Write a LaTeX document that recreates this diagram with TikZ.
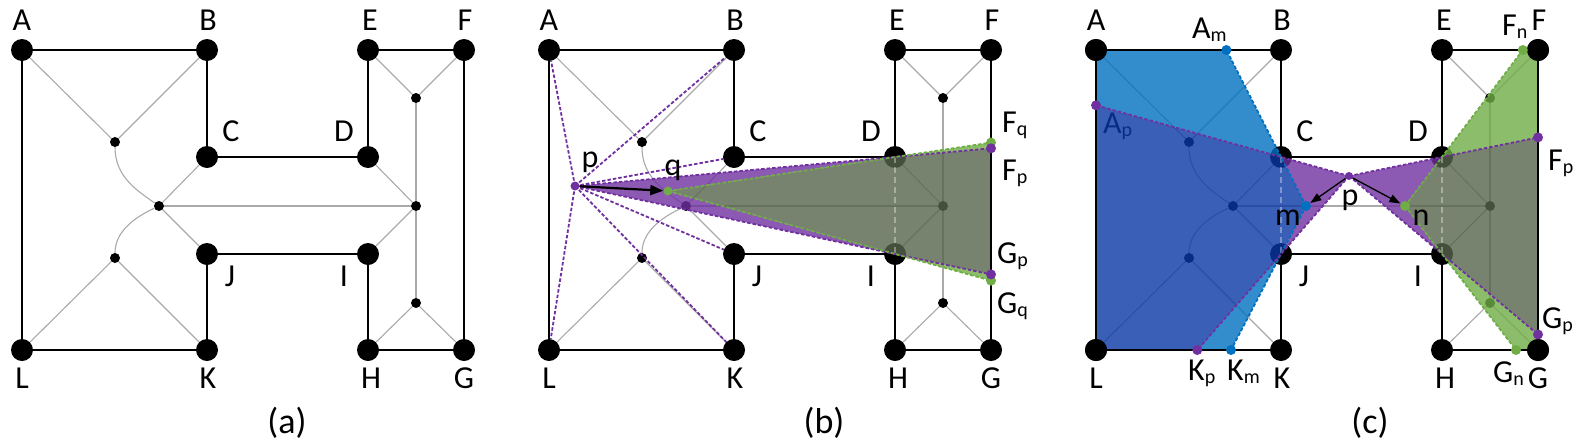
\documentclass[tikz,border=0pt]{standalone}
\usepackage{fontspec}
\setmainfont{Carlito}
\usetikzlibrary{arrows.meta}
\definecolor{vpurple}{HTML}{7030A0}
\definecolor{vblue}{HTML}{0070C0}
\definecolor{vgreen}{HTML}{70AD47}
\definecolor{vdblue}{RGB}{9,56,166}
\definecolor{volive}{RGB}{86,101,76}
\definecolor{edgegray}{RGB}{170,170,170}
\newcommand\sbs[2]{#1\raisebox{-3pt}{\fontsize{20}{20}\selectfont #2}}
\newcommand\basegraph{%
\coordinate (A) at (22,-50);
\coordinate (B) at (207,-50);
\coordinate (C) at (207,-157);
\coordinate (D) at (368,-157);
\coordinate (E) at (368,-50);
\coordinate (F) at (464,-50);
\coordinate (G) at (464,-350);
\coordinate (H) at (368,-350);
\coordinate (I) at (368,-254);
\coordinate (J) at (207,-254);
\coordinate (K) at (207,-350);
\coordinate (L) at (22,-350);
\foreach \v in {A,B,C,D,E,F,G,H,I,J,K,L} {\node[bigdot] (n\v) at (\v) {};}
\node[smalldot] (s1) at (115,-142) {};
\node[smalldot] (s2) at (159,-206) {};
\node[smalldot] (s3) at (115,-258) {};
\node[smalldot] (s4) at (416,-98) {};
\node[smalldot] (s5) at (416,-206) {};
\node[smalldot] (s6) at (416,-303) {};
\draw[gedge] (nA) -- (s1) -- (nB);
\draw[gedge] (s1) to[out=-90,in=145] (s2);
\draw[gedge] (s2) to[out=205,in=90] (s3);
\draw[gedge] (nC) -- (s2) -- (nJ);
\draw[gedge] (nL) -- (s3) -- (nK);
\draw[gedge] (s2) -- (s5);
\draw[gedge] (nD) -- (s5) -- (nI);
\draw[gedge] (s4) -- (s5) -- (s6);
\draw[gedge] (nE) -- (s4) -- (nF);
\draw[gedge] (nH) -- (s6) -- (nG);
\draw[wall] (A) -- (B) -- (C) -- (D) -- (E) -- (F) -- (G) -- (H) -- (I) -- (J) -- (K) -- (L) -- cycle;
\node[lab] (lA) at (22,-30) {A};
\node[lab] (lB) at (208,-30) {B};
\node[lab] (lE) at (370,-30) {E};
\node[lab] (lF) at (465,-30) {F};
\node[lab] (lC) at (231,-141) {C};
\node[lab] (lD) at (344,-141) {D};
\node[lab] (lJ) at (230,-286) {J};
\node[lab] (lI) at (344,-286) {I};
\node[lab] (lL) at (22,-388) {L};
\node[lab] (lK) at (208,-388) {K};
\node[lab] (lH) at (371,-388) {H};
\node[lab] (lG) at (464,-388) {G};
}
\begin{document}
\begin{tikzpicture}[x=1pt,y=1pt,
  bigdot/.style={circle,fill=black,inner sep=0pt,minimum size=22pt},
  smalldot/.style={circle,fill=black,inner sep=0pt,minimum size=10pt},
  cdot/.style={circle,inner sep=0pt,minimum size=10pt},
  gedge/.style={draw=edgegray,line width=1.1pt},
  wall/.style={draw=black,line width=2.4pt,line join=round},
  pdash/.style={draw=vpurple,line width=1.8pt,dash pattern=on 3.5pt off 2pt},
  gdash/.style={draw=vgreen,line width=1.8pt,dash pattern=on 3.5pt off 2pt},
  bdash/.style={draw=vblue,line width=1.8pt,dash pattern=on 3.5pt off 2pt},
  portal/.style={draw=white,draw opacity=.35,line width=2.5pt,dash pattern=on 6pt off 4pt},
  region/.style={fill opacity=.8},
  lab/.style={font=\fontsize{32}{32}\selectfont,inner sep=0pt,anchor=base},
  labw/.style={lab,anchor=base west},
  captxt/.style={font=\fontsize{36}{36}\selectfont,inner sep=0pt,anchor=base},
  arrb/.style={-{Triangle[length=13pt,width=10pt]},line width=2.2pt},
  arrc/.style={-{Triangle[length=11pt,width=8pt]},line width=1.3pt}]
\fill[white] (0,0) rectangle (1579,-445);
\useasboundingbox (0,0) rectangle (1579,-445);

% ---------- (a)
\begin{scope}[name prefix=a-]
\basegraph
\node[captxt] (cap) at (287,-433) {(a)};
\end{scope}

% ---------- (b)
\begin{scope}[xshift=527pt,name prefix=b-]
\basegraph
\node[captxt] (cap) at (297,-433) {(b)};
\coordinate (p) at (48,-186);
\coordinate (q) at (141,-191);
\coordinate (Fp) at (464,-148.3);
\coordinate (Gp) at (464,-274.4);
\coordinate (Fq) at (464,-142.6);
\coordinate (Gq) at (464,-280.6);
\fill[vpurple,region] (p) -- (D) -- (q) -- (I) -- cycle;
\fill[volive,region] (q) -- (D) -- (Fp) -- (Gp) -- (I) -- cycle;
\fill[vgreen,region] (D) -- (Fq) -- (Fp) -- cycle;
\fill[vgreen,region] (I) -- (Gp) -- (Gq) -- cycle;
\draw[portal] (D) -- (I);
\draw[wall] (F) -- (G);
\draw[pdash] (p) -- (nA);
\draw[pdash] (p) -- (nB);
\draw[pdash] (p) -- (nC);
\draw[pdash] (p) -- (nJ);
\draw[pdash] (p) -- (nK);
\draw[pdash] (p) -- (nL);
\draw[pdash] (p) -- (Fp);
\draw[pdash] (p) -- (Gp);
\draw[gdash] (q) -- (Fq);
\draw[gdash] (q) -- (Gq);
\node[cdot,fill=vgreen] (nFq) at (Fq) {};
\node[cdot,fill=vgreen] (nGq) at (Gq) {};
\node[cdot,fill=vpurple] (nFp) at (Fp) {};
\node[cdot,fill=vpurple] (nGp) at (Gp) {};
\node[cdot,fill=vpurple,minimum size=9pt] (np) at (p) {};
\node[cdot,fill=vgreen,minimum size=9pt] (nq) at (q) {};
\draw[arrb] (np) -- (nq);
\node[lab] (lp) at (63,-167) {p};
\node[lab] (lq) at (146,-175) {q};
\node[labw] (lFq) at (475,-132) {\sbs{F}{q}};
\node[labw] (lFp) at (475,-180) {\sbs{F}{p}};
\node[labw] (lGp) at (470,-263) {\sbs{G}{p}};
\node[labw] (lGq) at (470,-313) {\sbs{G}{q}};
\end{scope}

% ---------- (c)
\begin{scope}[xshift=1074pt,name prefix=c-]
\basegraph
\node[captxt] (cap) at (296,-433) {(c)};
\coordinate (p) at (275,-176);
\coordinate (m) at (232,-206);
\coordinate (n) at (331,-206);
\coordinate (Am) at (152.4,-50);
\coordinate (Km) at (157,-350);
\coordinate (Ap) at (22,-105.3);
\coordinate (Kp) at (123.3,-350);
\coordinate (Fn) at (448.8,-50);
\coordinate (Gn) at (442,-350);
\coordinate (Fp) at (464,-137.4);
\coordinate (Gp) at (464,-334.5);
\node[labw] (lAp) at (29,-133) {\sbs{A}{p}};
\fill[vblue,region] (A) -- (Am) -- (C) -- (Ap) -- cycle;
\fill[vblue,region] (J) -- (Km) -- (Kp) -- cycle;
\fill[vdblue,region] (C) -- (Ap) -- (L) -- (Kp) -- (J) -- (m) -- cycle;
\fill[vpurple,region] (p) -- (C) -- (m) -- (J) -- cycle;
\fill[vpurple,region] (p) -- (D) -- (n) -- (I) -- cycle;
\fill[volive,region] (D) -- (Fp) -- (Gp) -- (I) -- (n) -- cycle;
\fill[vgreen,region] (D) -- (Fn) -- (F) -- (Fp) -- cycle;
\fill[vgreen,region] (I) -- (Gp) -- (G) -- (Gn) -- cycle;
\draw[portal] (C) -- (J);
\draw[portal] (D) -- (I);
\draw[wall] (C) -- (B) -- (A) -- (L) -- (K) -- (J);
\draw[wall] (D) -- (E) -- (F) -- (G) -- (H) -- (I);
\fill[black] (A) circle (11pt);
\fill[black] (L) circle (11pt);
\fill[black] (F) circle (11pt);
\fill[black] (G) circle (11pt);
\draw[bdash] (m) -- (Am);
\draw[bdash] (m) -- (Km);
\draw[pdash] (p) -- (Ap);
\draw[pdash] (p) -- (Kp);
\draw[pdash] (p) -- (Fp);
\draw[pdash] (p) -- (Gp);
\draw[gdash] (n) -- (Fn);
\draw[gdash] (n) -- (Gn);
\node[cdot,fill=vblue] (nAm) at (Am) {};
\node[cdot,fill=vblue] (nKm) at (Km) {};
\node[cdot,fill=vblue] (nm) at (m) {};
\node[cdot,fill=vpurple] (nAp) at (Ap) {};
\node[cdot,fill=vpurple] (nKp) at (Kp) {};
\node[cdot,fill=vpurple] (nFp) at (Fp) {};
\node[cdot,fill=vpurple] (nGp) at (Gp) {};
\node[cdot,fill=vpurple,minimum size=8pt] (np) at (p) {};
\node[cdot,fill=vgreen] (nFn) at (Fn) {};
\node[cdot,fill=vgreen] (nGn) at (Gn) {};
\node[cdot,fill=vgreen] (nn) at (n) {};
\draw[arrc] (np) -- (nm);
\draw[arrc] (np) -- (nn);
\node[lab] (lp) at (276,-205) {p};
\node[lab] (lm) at (214,-225) {m};
\node[lab] (ln) at (347,-225) {n};
\node[labw] (lAm) at (118,-38) {\sbs{A}{m}};
\node[labw] (lFn) at (428,-35) {\sbs{F}{n}};
\node[labw] (lFp) at (474,-170) {\sbs{F}{p}};
\node[labw] (lGp) at (468,-328) {\sbs{G}{p}};
\node[labw] (lGn) at (419,-382) {\sbs{G}{n}};
\node[labw] (lKp) at (114,-380) {\sbs{K}{p}};
\node[labw] (lKm) at (153,-380) {\sbs{K}{m}};
\end{scope}
\end{tikzpicture}
\end{document}
